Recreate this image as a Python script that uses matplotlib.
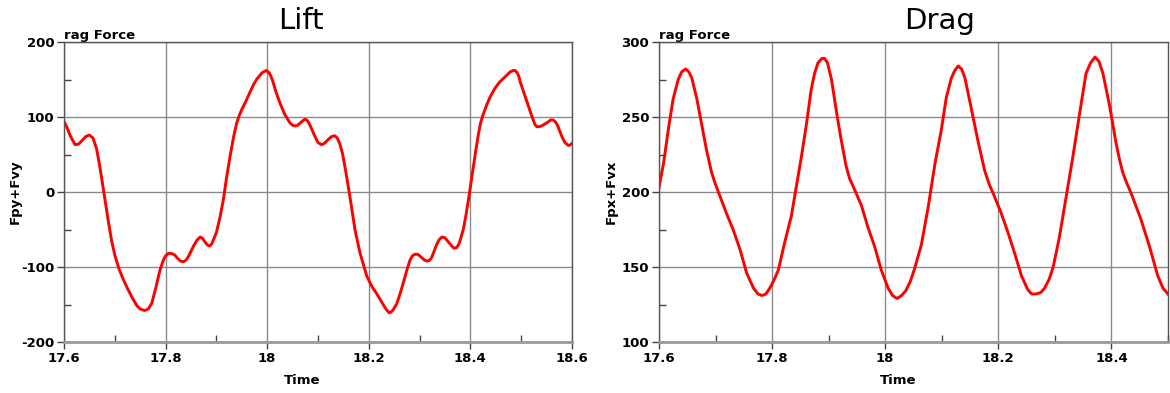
import matplotlib
matplotlib.use('Agg')
import matplotlib.pyplot as plt
from matplotlib.ticker import MultipleLocator

plt.rcParams['axes.unicode_minus'] = False

# Lift data (Time, Fpy+Fvy)
lift_t = [17.600, 17.606, 17.611, 17.617, 17.622, 17.629, 17.636, 17.643, 17.650, 17.657,
          17.664, 17.670, 17.677, 17.687, 17.694, 17.700, 17.708, 17.717, 17.726, 17.736,
          17.744, 17.750, 17.759, 17.766, 17.773, 17.781, 17.789, 17.795, 17.799, 17.805,
          17.812, 17.818, 17.823, 17.829, 17.835, 17.840, 17.845, 17.850, 17.855, 17.862,
          17.868, 17.873, 17.878, 17.883, 17.887, 17.891, 17.894, 17.900, 17.907, 17.914,
          17.920, 17.927, 17.934, 17.940, 17.945, 17.950, 17.958, 17.966, 17.973, 17.980,
          17.990, 17.998, 18.004, 18.010, 18.017, 18.026, 18.035, 18.045, 18.050, 18.055,
          18.060, 18.065, 18.070, 18.074, 18.078, 18.082, 18.087, 18.092, 18.100, 18.107,
          18.113, 18.120, 18.127, 18.133, 18.138, 18.143, 18.148, 18.153, 18.158, 18.163,
          18.173, 18.183, 18.196, 18.206, 18.216, 18.224, 18.230, 18.236, 18.240, 18.244,
          18.248, 18.255, 18.261, 18.268, 18.275, 18.281, 18.286, 18.291, 18.296, 18.300,
          18.305, 18.310, 18.315, 18.320, 18.324, 18.328, 18.333, 18.338, 18.344, 18.350,
          18.356, 18.362, 18.368, 18.373, 18.377, 18.380, 18.386, 18.391, 18.396, 18.401,
          18.406, 18.411, 18.416, 18.420, 18.425, 18.432, 18.439, 18.448, 18.458, 18.466,
          18.472, 18.478, 18.484, 18.488, 18.491, 18.495, 18.498, 18.504, 18.511, 18.520,
          18.527, 18.531, 18.535, 18.540, 18.545, 18.552, 18.558, 18.563, 18.568, 18.572,
          18.576, 18.580, 18.586, 18.593, 18.597, 18.600]
lift_v = [94, 86, 77, 69, 63, 64, 69, 74, 76, 72,
          58, 36, 6, -38, -66, -84, -102, -117, -130, -143,
          -152, -156, -158, -156, -148, -127, -104, -92, -86, -82,
          -82, -84, -88, -92, -93, -91, -86, -79, -72, -64,
          -60, -62, -67, -71, -72, -69, -64, -54, -34, -9,
          19, 48, 74, 92, 102, 110, 121, 133, 143, 151,
          159, 162, 159, 150, 134, 117, 103, 92, 89, 88,
          89, 92, 95, 97, 96, 92, 85, 77, 66, 63,
          65, 70, 74, 75, 72, 64, 52, 34, 14, -7,
          -51, -82, -112, -126, -136, -145, -152, -158, -161, -160,
          -157, -149, -137, -121, -104, -91, -85, -83, -83, -85,
          -88, -91, -92, -91, -87, -80, -71, -64, -60, -61,
          -66, -71, -75, -74, -70, -64, -50, -32, -11, 12,
          34, 57, 78, 92, 103, 116, 127, 138, 147, 152,
          156, 160, 162, 162, 160, 155, 147, 135, 121, 103,
          90, 87, 87, 88, 90, 93, 96, 96, 93, 88,
          81, 74, 66, 62, 63, 65]

# Drag data (Time, Fpx+Fvx)
drag_t = [17.600, 17.608, 17.617, 17.625, 17.634, 17.640, 17.647, 17.653, 17.658, 17.667,
          17.675, 17.684, 17.693, 17.699, 17.705, 17.719, 17.731, 17.743, 17.755, 17.767,
          17.775, 17.782, 17.789, 17.796, 17.803, 17.811, 17.822, 17.834, 17.843, 17.852,
          17.861, 17.869, 17.875, 17.881, 17.888, 17.893, 17.898, 17.905, 17.914, 17.922,
          17.931, 17.937, 17.943, 17.958, 17.969, 17.981, 17.993, 18.005, 18.013, 18.021,
          18.029, 18.036, 18.044, 18.052, 18.064, 18.076, 18.088, 18.099, 18.108, 18.117,
          18.123, 18.129, 18.135, 18.141, 18.152, 18.164, 18.176, 18.184, 18.191, 18.205,
          18.217, 18.229, 18.241, 18.252, 18.259, 18.267, 18.275, 18.282, 18.290, 18.297,
          18.308, 18.320, 18.332, 18.344, 18.355, 18.363, 18.371, 18.378, 18.385, 18.397,
          18.408, 18.414, 18.420, 18.427, 18.435, 18.452, 18.467, 18.482, 18.491, 18.500]
drag_v = [203, 219, 243, 262, 275, 280, 282, 280, 276, 262,
          246, 228, 213, 206, 200, 186, 175, 162, 146, 136,
          132, 131, 132, 136, 141, 148, 166, 184, 204, 224,
          246, 268, 279, 286, 289, 289, 286, 275, 253, 235,
          217, 209, 204, 191, 177, 164, 148, 136, 131, 129,
          131, 134, 140, 149, 165, 190, 219, 241, 263, 276,
          281, 284, 282, 276, 256, 234, 214, 205, 199, 186,
          173, 159, 144, 135, 132, 132, 133, 136, 142, 150,
          170, 197, 224, 253, 279, 286, 290, 287, 279, 257,
          233, 222, 213, 206, 199, 182, 164, 144, 136, 132]

lift_xlim = (17.6, 18.6)
drag_xlim = (17.6, 18.5)

fig = plt.figure(figsize=(11.7, 3.93), dpi=100)
W, H = 1170, 393

ax1 = fig.add_axes([64 / W, 51 / H, 508 / W, 300 / H])
ax2 = fig.add_axes([659 / W, 51 / H, 509 / W, 300 / H])


def style(ax, ylim, ymaj, ymin, xlim):
    ax.set_xlim(*xlim)
    ax.set_ylim(*ylim)
    ax.xaxis.set_major_locator(MultipleLocator(0.2))
    ax.xaxis.set_minor_locator(MultipleLocator(0.1))
    ax.yaxis.set_major_locator(MultipleLocator(ymaj))
    ax.yaxis.set_minor_locator(MultipleLocator(ymin))
    ax.grid(True, which='major', color='#8a8a8a', linewidth=1.0)
    ax.tick_params(which='major', direction='out', length=5, width=1,
                   color='#444444', labelsize=9.5, pad=2)
    ax.tick_params(which='minor', direction='in', length=5, width=1, color='#444444')
    for lab in ax.get_xticklabels() + ax.get_yticklabels():
        lab.set_fontweight('bold')
    for s in ax.spines.values():
        s.set_color('#555555')
        s.set_linewidth(1.0)
    ax.spines['bottom'].set_color('#999999')
    ax.spines['bottom'].set_linewidth(2.0)
    ax.set_axisbelow(True)


ax1.plot(lift_t, lift_v, color='red', linewidth=2.1, solid_joinstyle='round')
style(ax1, (-200, 200), 100, 50, lift_xlim)
ax1.set_xticks([17.6, 17.8, 18.0, 18.2, 18.4, 18.6])
ax1.set_xticklabels(['17.6', '17.8', '18', '18.2', '18.4', '18.6'], fontweight='bold')

ax2.plot(drag_t, drag_v, color='red', linewidth=2.1, solid_joinstyle='round')
style(ax2, (100, 300), 50, 25, drag_xlim)
ax2.set_xticks([17.6, 17.8, 18.0, 18.2, 18.4])
ax2.set_xticklabels(['17.6', '17.8', '18', '18.2', '18.4'], fontweight='bold')

# titles and labels
fig.text(301 / W, 1 - 29 / H, 'Lift', fontsize=21, ha='center', va='baseline')
fig.text(940 / W, 1 - 29 / H, 'Drag', fontsize=21, ha='center', va='baseline')
fig.text(64 / W, 1 - 39 / H, 'rag Force', fontsize=9.5, fontweight='bold', ha='left', va='baseline')
fig.text(659 / W, 1 - 39 / H, 'rag Force', fontsize=9.5, fontweight='bold', ha='left', va='baseline')
fig.text(302 / W, 1 - 381 / H, 'Time', fontsize=9.5, fontweight='bold', ha='center', va='center')
fig.text(898 / W, 1 - 381 / H, 'Time', fontsize=9.5, fontweight='bold', ha='center', va='center')
fig.text(15 / W, 1 - 192 / H, 'Fpy+Fvy', fontsize=9.5, fontweight='bold', rotation=90,
         ha='center', va='center')
fig.text(611 / W, 1 - 192 / H, 'Fpx+Fvx', fontsize=9.5, fontweight='bold', rotation=90,
         ha='center', va='center')

fig.savefig('out.png', dpi=100)
